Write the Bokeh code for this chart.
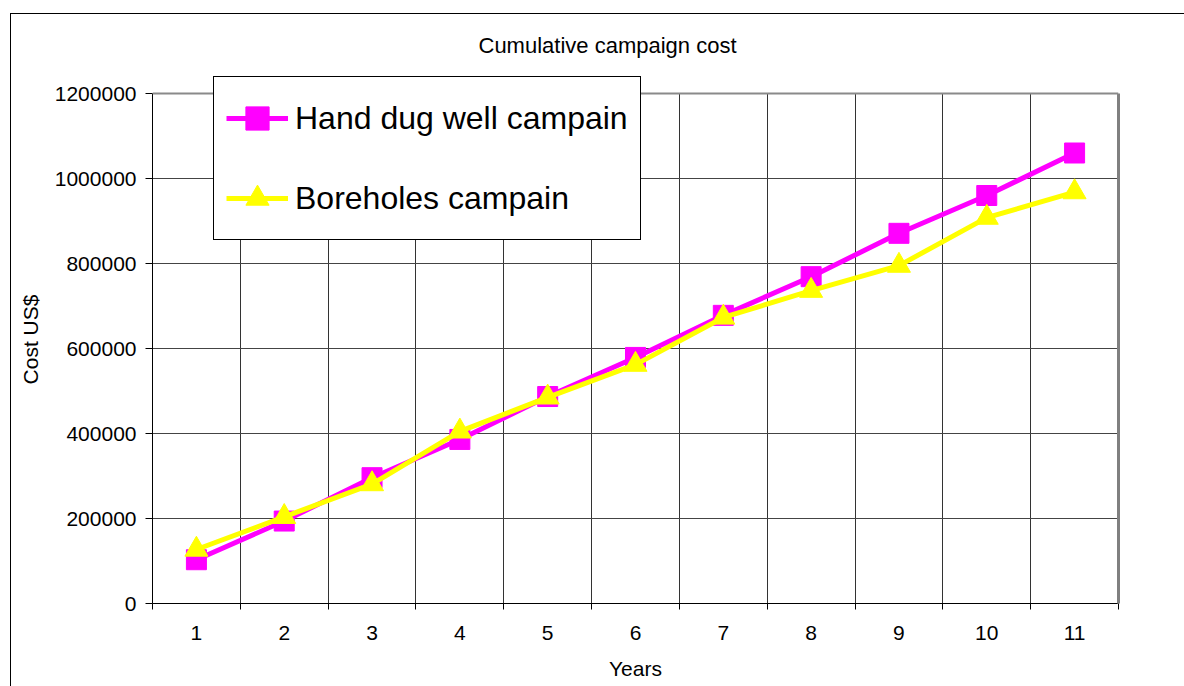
from bokeh.plotting import figure
from bokeh.models import (Range1d, FixedTicker, NumeralTickFormatter, Legend, LegendItem,
                          Title, Span, LinearAxis)
from bokeh.embed import file_html
from bokeh.resources import INLINE

years = [1, 2, 3, 4, 5, 6, 7, 8, 9, 10, 11]
hand_dug = [103000, 194000, 296000, 386000, 487000, 579000, 678000, 769000, 871000, 960000, 1060000]
boreholes = [127000, 204000, 281000, 405000, 485000, 562000, 673000, 736000, 795000, 908000, 968000]
y_ticks = [0, 200000, 400000, 600000, 800000, 1000000, 1200000]
y_max = 1200000

FONT = "Liberation Sans"

# frame: left 152, right 1118, bottom 603; value axis top (y_max) at 93;
# frame extended up to 75 so the legend can overlap the top of the plot area
FRAME_TOP, AXIS_TOP, FRAME_BOTTOM = 75, 93, 603
y_top = y_max * (FRAME_BOTTOM - FRAME_TOP) / (FRAME_BOTTOM - AXIS_TOP)

p = figure(width=1184, height=686, output_backend="svg", toolbar_location=None,
           x_range=Range1d(0.5, 11.5), y_range=Range1d(0, y_top),
           min_border_left=152, min_border_right=66, min_border_top=FRAME_TOP,
           min_border_bottom=686 - FRAME_BOTTOM,
           background_fill_color="white", border_fill_color="white", border_fill_alpha=0)
p.title = None
p.outline_line_color = None
p.styles = {
    "background": "linear-gradient(#000,#000) 10px 13px / 1px 100% no-repeat, "
                  "linear-gradient(#000,#000) 10px 13px / 100% 1px no-repeat, white"
}

t = Title(text="Cumulative campaign cost", align="left", text_font=FONT,
          text_font_size="22px", text_font_style="normal", text_color="black",
          standoff=36, offset=326)
p.add_layout(t, "above")

# x axis: labels at category centres, tick marks at category boundaries
p.xaxis.ticker = FixedTicker(ticks=years, minor_ticks=[y + 0.5 for y in [0] + years])
p.xaxis.major_tick_line_color = None
p.xaxis.major_tick_out = 5
p.xaxis.major_tick_in = 0
p.xaxis.minor_tick_line_color = "black"
p.xaxis.minor_tick_out = 6
p.xaxis.minor_tick_in = 0
p.xaxis.axis_line_color = "black"
p.xaxis.major_label_text_font = FONT
p.xaxis.major_label_text_font_size = "21px"
p.xaxis.major_label_text_color = "black"
p.xaxis.major_label_standoff = 16
p.xaxis.axis_label = "Years"
p.xaxis.axis_label_text_font = FONT
p.xaxis.axis_label_text_font_size = "21px"
p.xaxis.axis_label_text_font_style = "normal"
p.xaxis.axis_label_text_color = "black"
p.xaxis.axis_label_standoff = 14

p.yaxis.ticker = FixedTicker(ticks=y_ticks, minor_ticks=[])
p.yaxis.bounds = (0, y_max)
p.yaxis.formatter = NumeralTickFormatter(format="0")
p.yaxis.major_tick_out = 7
p.yaxis.major_tick_in = 0
p.yaxis.major_tick_line_color = "black"
p.yaxis.axis_line_color = "black"
p.yaxis.major_label_text_font = FONT
p.yaxis.major_label_text_font_size = "21px"
p.yaxis.major_label_text_color = "black"
p.yaxis.major_label_standoff = 9
p.yaxis.axis_label = "Cost US$"
p.yaxis.axis_label_text_font = FONT
p.yaxis.axis_label_text_font_size = "21px"
p.yaxis.axis_label_text_font_style = "normal"
p.yaxis.axis_label_text_color = "black"
p.yaxis.axis_label_standoff = 10

# right border of plot area (grey)
ra = LinearAxis(bounds=(0, y_max), ticker=FixedTicker(ticks=[]),
                axis_line_color="#808080", axis_line_width=3,
                major_tick_line_color=None, minor_tick_line_color=None,
                major_label_text_font_size="0px")
p.add_layout(ra, "right")

p.xgrid.ticker = FixedTicker(ticks=[y + 0.5 for y in years[:-1]])
p.xgrid.cross_bounds = (0, y_max)
p.xgrid.grid_line_color = "#333333"
p.xgrid.grid_line_width = 1
p.ygrid.ticker = FixedTicker(ticks=y_ticks[:-1])
p.ygrid.grid_line_color = "#444444"
p.ygrid.grid_line_width = 1

# grey top edge of the plot area
p.add_layout(Span(location=y_max, dimension="width", line_color="#8a8a8a", line_width=2))

MAG = "#FF00FF"
YEL = "#FFFF00"

l1 = p.line(years, hand_dug, line_color=MAG, line_width=5)
m1 = p.scatter(years, hand_dug, marker="square", size=20, fill_color=MAG, line_color=MAG)
l2 = p.line(years, boreholes, line_color=YEL, line_width=5)
m2 = p.scatter(years, boreholes, marker="triangle", size=23, fill_color=YEL, line_color=YEL)

legend = Legend(items=[LegendItem(label="Hand dug well campain", renderers=[l1, m1]),
                       LegendItem(label="Boreholes campain", renderers=[l2, m2])],
                location=(61, FRAME_BOTTOM - 240), orientation="vertical",
                label_text_font=FONT, label_text_font_size="32px", label_text_color="black",
                glyph_width=62, glyph_height=58, label_height=58, spacing=22,
                padding=12, margin=0, label_standoff=7,
                border_line_color="black", border_line_width=1, border_line_alpha=1,
                background_fill_color="white", background_fill_alpha=1)
p.add_layout(legend, "center")

open("out.html", "w").write(file_html(p, INLINE))
